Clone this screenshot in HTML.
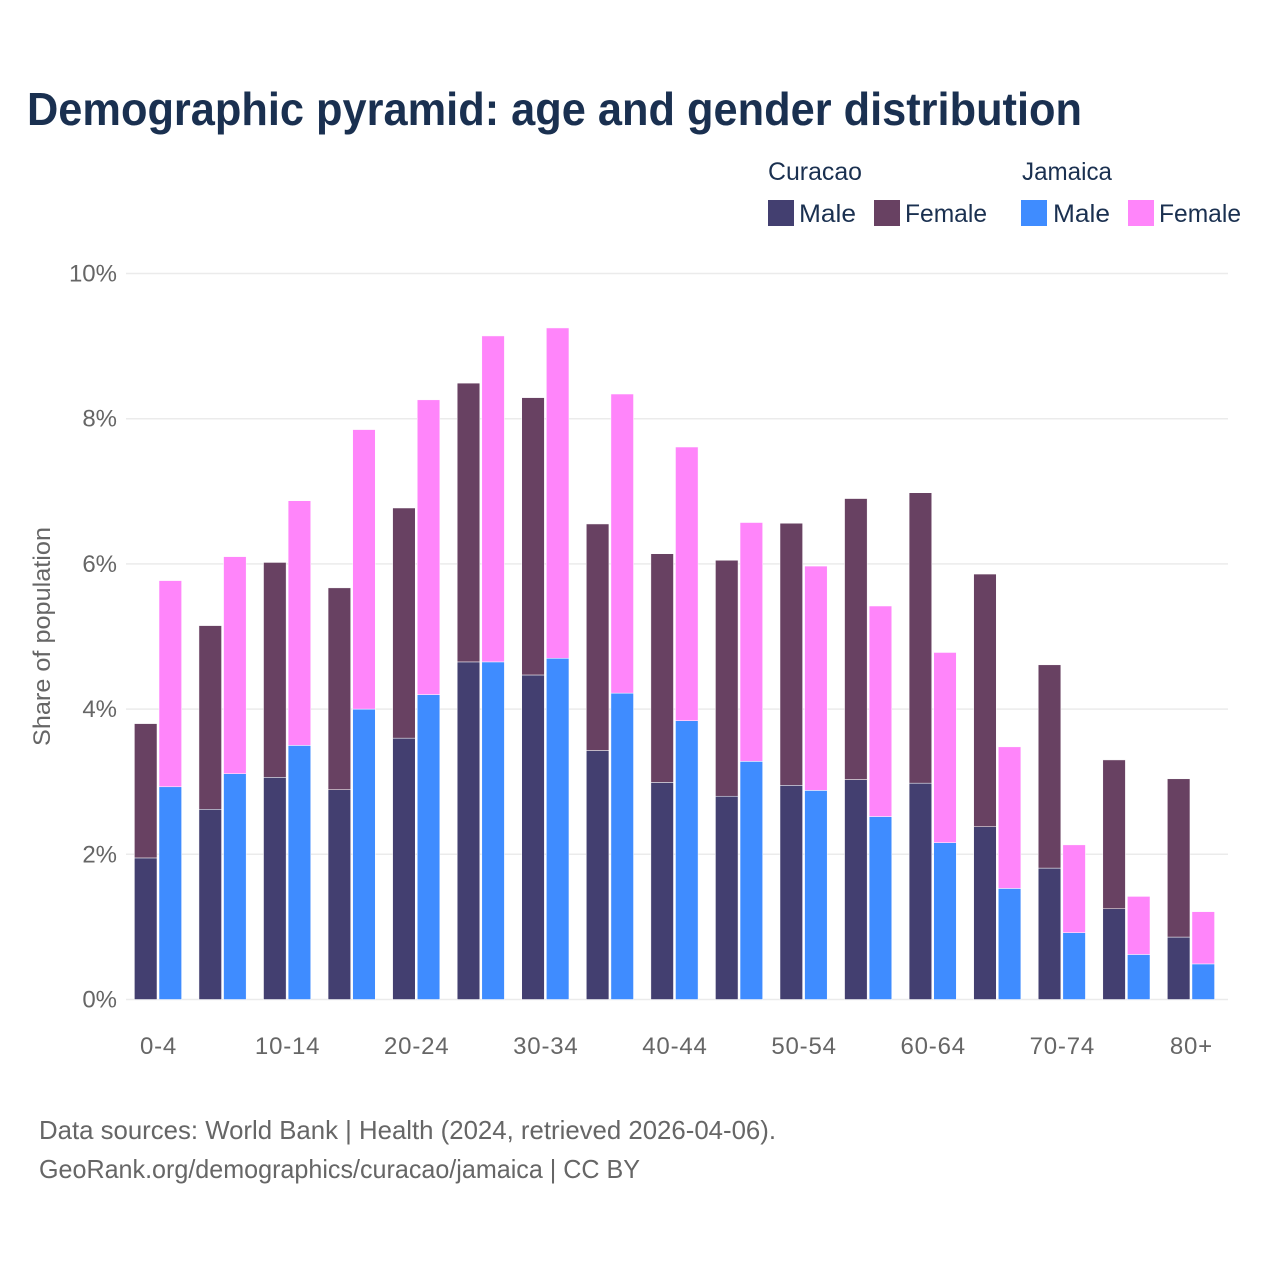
<!DOCTYPE html>
<html lang="en">
<head>
<meta charset="utf-8">
<title>Demographic pyramid: age and gender distribution</title>
<style>
html,body{margin:0;padding:0;background:#fff;}
svg{display:block;font-family:"Liberation Sans",sans-serif;}
</style>
</head>
<body>
<svg id="chart" xmlns="http://www.w3.org/2000/svg" width="1280" height="1280" viewBox="0 0 1280 1280">
  <rect x="0" y="0" width="1280" height="1280" fill="#ffffff"/>
  <text x="27" y="125" font-size="46" font-weight="700" fill="#1a3050" textLength="1055" lengthAdjust="spacingAndGlyphs">Demographic pyramid: age and gender distribution</text>
  <g font-size="25" fill="#1a3050">
    <text x="768" y="180" textLength="94" lengthAdjust="spacingAndGlyphs">Curacao</text>
    <text x="1022" y="180" textLength="90" lengthAdjust="spacingAndGlyphs">Jamaica</text>
    <rect x="768" y="200" width="26" height="26" fill="#433f70"/>
    <text x="799" y="222" textLength="57" lengthAdjust="spacingAndGlyphs">Male</text>
    <rect x="874" y="200" width="26" height="26" fill="#684162"/>
    <text x="905" y="222" textLength="82" lengthAdjust="spacingAndGlyphs">Female</text>
    <rect x="1021" y="200" width="26" height="26" fill="#3f8cff"/>
    <text x="1053" y="222" textLength="57" lengthAdjust="spacingAndGlyphs">Male</text>
    <rect x="1128" y="200" width="26" height="26" fill="#ff85fa"/>
    <text x="1159" y="222" textLength="82" lengthAdjust="spacingAndGlyphs">Female</text>
  </g>
  <g id="grid"></g>
  <g id="bars"></g>
  <g id="yticks" font-size="24" fill="#666666" text-anchor="end"></g>
  <g id="xticks" font-size="24" fill="#666666" text-anchor="middle" letter-spacing="0.8"></g>
  <text transform="translate(50,636.5) rotate(-90)" font-size="24" fill="#666666" text-anchor="middle" textLength="219" lengthAdjust="spacingAndGlyphs">Share of population</text>
  <text x="39" y="1139" font-size="26" fill="#666666" textLength="737" lengthAdjust="spacingAndGlyphs">Data sources: World Bank | Health (2024, retrieved 2026-04-06).</text>
  <text x="39" y="1178" font-size="26" fill="#666666" textLength="601" lengthAdjust="spacingAndGlyphs">GeoRank.org/demographics/curacao/jamaica | CC BY</text>
</svg>
<script>
const categories = ["0-4","5-9","10-14","15-19","20-24","25-29","30-34","35-39","40-44","45-49","50-54","55-59","60-64","65-69","70-74","75-79","80+"];
const curacaoMale = [1.95,2.62,3.06,2.89,3.60,4.65,4.47,3.43,2.99,2.80,2.95,3.03,2.98,2.38,1.81,1.25,0.86];
const curacaoFemale = [1.85,2.53,2.96,2.78,3.17,3.84,3.82,3.12,3.15,3.25,3.61,3.87,4.00,3.48,2.80,2.05,2.18];
const jamaicaMale = [2.93,3.11,3.50,4.00,4.20,4.65,4.70,4.22,3.84,3.28,2.88,2.52,2.16,1.53,0.92,0.62,0.49];
const jamaicaFemale = [2.84,2.99,3.37,3.85,4.06,4.49,4.55,4.12,3.77,3.29,3.09,2.90,2.62,1.95,1.21,0.80,0.72];
const yTickValues = [0,2,4,6,8,10];

const SVG_NS = "http://www.w3.org/2000/svg";
const barWidth = 22.6;
const barGap = 2;
function xCenter(i){ return 158 + i * 64.56; }
function yScale(v){ return 999.5 - v * 72.6; }

function addBar(parent, x, base, value, fill, name){
  const r = document.createElementNS(SVG_NS, "rect");
  
  
  r.setAttribute("x", x);
  r.setAttribute("y", yScale(base + value));
  r.setAttribute("width", barWidth);
  r.setAttribute("height", yScale(base) - yScale(base + value));
  r.setAttribute("fill", fill);
  r.setAttribute("stroke", "#ffffff");
  r.setAttribute("stroke-width", "0.5");
  parent.appendChild(r);
}

const gridG = document.getElementById("grid");
const yG = document.getElementById("yticks");
yTickValues.forEach(function(t){
  const l = document.createElementNS(SVG_NS, "line");
  
  
  l.setAttribute("x1", 126);
  l.setAttribute("x2", 1228);
  l.setAttribute("y1", yScale(t));
  l.setAttribute("y2", yScale(t));
  l.setAttribute("stroke", "#ebebeb");
  l.setAttribute("stroke-width", "1.5");
  gridG.appendChild(l);
  const label = document.createElementNS(SVG_NS, "text");
  
  
  label.setAttribute("x", 117);
  label.setAttribute("y", yScale(t) + 8);
  label.textContent = t + "%";
  yG.appendChild(label);
});

const barsG = document.getElementById("bars");
const xG = document.getElementById("xticks");
categories.forEach(function(c, i){
  const left = xCenter(i) - barGap / 2 - barWidth;
  const right = xCenter(i) + barGap / 2;
  addBar(barsG, left, 0, curacaoMale[i], "#433f70", "bar-curacao-male");
  addBar(barsG, left, curacaoMale[i], curacaoFemale[i], "#684162", "bar-curacao-female");
  addBar(barsG, right, 0, jamaicaMale[i], "#3f8cff", "bar-jamaica-male");
  addBar(barsG, right, jamaicaMale[i], jamaicaFemale[i], "#ff85fa", "bar-jamaica-female");
  if (i % 2 === 0) {
    const label = document.createElementNS(SVG_NS, "text");
    
    
    label.setAttribute("x", xCenter(i) + 0.5);
    label.setAttribute("y", 1054);
    label.textContent = c;
    xG.appendChild(label);
  }
});
</script>
</body>
</html>
